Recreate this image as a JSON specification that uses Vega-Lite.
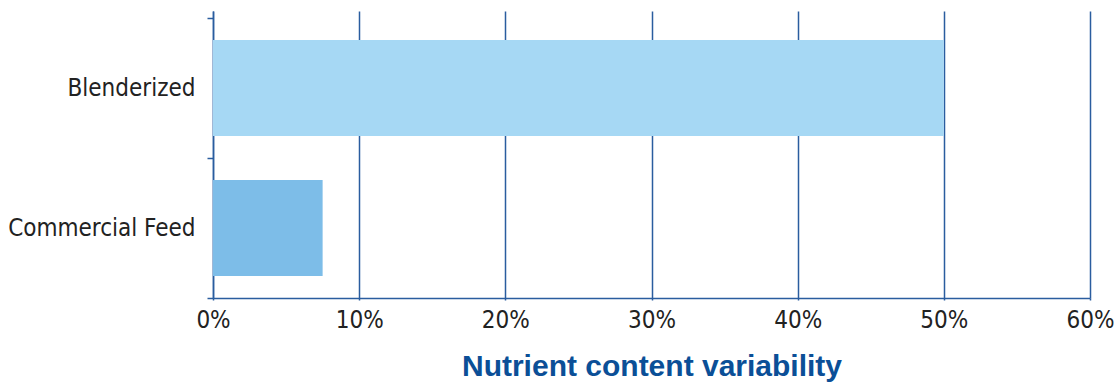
{
  "$schema": "https://vega.github.io/schema/vega-lite/v6.json",
  "width": 877,
  "height": 287,
  "autosize": {"type": "none"},
  "padding": {"left": 213, "top": 11, "right": 24, "bottom": 89},
  "background": "white",
  "config": {"view": {"stroke": null}},
  "data": {
    "values": [
      {"feed": "Blenderized", "variability": 50},
      {"feed": "Commercial Feed", "variability": 7.5}
    ]
  },
  "mark": {"type": "bar", "height": {"band": 0.686}},
  "encoding": {
    "y": {
      "field": "feed",
      "type": "nominal",
      "sort": ["Blenderized", "Commercial Feed"],
      "scale": {"paddingInner": 0, "paddingOuter": 0.025, "align": 1},
      "axis": {
        "title": null,
        "tickBand": "extent",
        "domainColor": "#2a5d9f",
        "domainWidth": 1.5,
        "tickColor": "#2a5d9f",
        "tickWidth": 1.5,
        "tickSize": 6,
        "labelFont": "DejaVu Sans Condensed, Liberation Sans",
        "labelFontSize": 24,
        "labelLimit": 300,
        "labelColor": "#222222",
        "labelPadding": 12,
        "grid": false
      }
    },
    "x": {
      "field": "variability",
      "type": "quantitative",
      "scale": {"domain": [0, 60], "nice": false},
      "axis": {
        "title": "Nutrient content variability",
        "labelExpr": "datum.value + '%'",
        "values": [0, 10, 20, 30, 40, 50, 60],
        "labelFlush": false,
        "grid": true,
        "gridColor": "#2a5d9f",
        "gridWidth": 1.5,
        "gridOpacity": 1,
        "domainColor": "#2a5d9f",
        "domainWidth": 1.5,
        "tickColor": "#2a5d9f",
        "tickWidth": 1.5,
        "tickSize": 2,
        "labelFont": "DejaVu Sans Condensed, Liberation Sans",
        "labelFontSize": 24,
        "labelColor": "#222222",
        "labelPadding": 8,
        "titleFont": "Liberation Sans",
        "titleFontWeight": "bold",
        "titleFontSize": 30,
        "titleColor": "#0b4f97",
        "titlePadding": 19
      }
    },
    "color": {
      "field": "feed",
      "type": "nominal",
      "scale": {"domain": ["Blenderized", "Commercial Feed"], "range": ["#a6d8f4", "#7dbde8"]},
      "legend": null
    }
  }
}
